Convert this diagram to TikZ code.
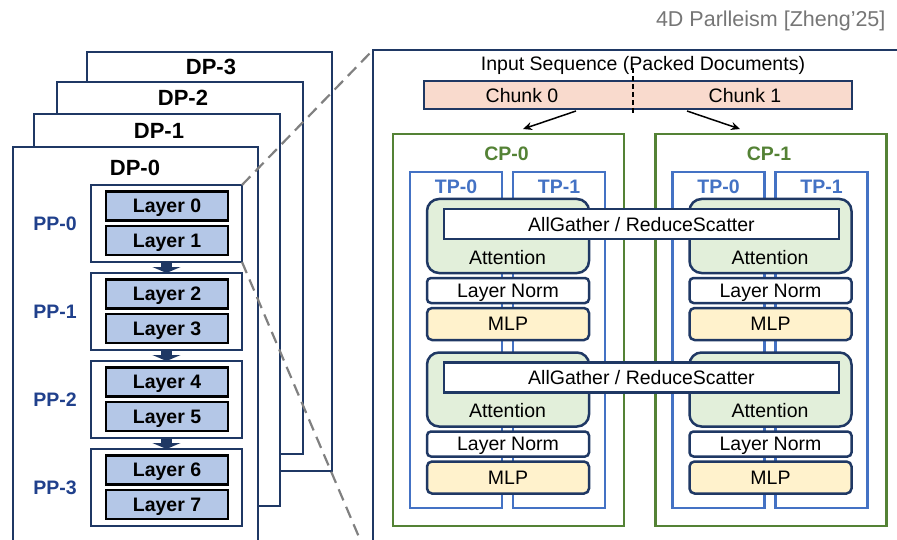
\documentclass[tikz,border=0pt]{standalone}
\usepackage{fontspec}
\setmainfont{Liberation Sans}
\usetikzlibrary{arrows.meta}

\definecolor{navy}{RGB}{31,56,100}
\definecolor{ppblue}{RGB}{32,64,140}
\definecolor{layerfill}{RGB}{180,199,231}
\definecolor{chunkfill}{RGB}{249,218,205}
\definecolor{cpgreen}{RGB}{84,130,53}
\definecolor{attnfill}{RGB}{226,239,218}
\definecolor{tpblue}{RGB}{68,114,196}
\definecolor{mlpfill}{RGB}{255,242,204}
\definecolor{titlegray}{RGB}{118,118,118}

\tikzset{
  txt/.style={font=\fontsize{19.5}{22}\selectfont, text depth=0pt},
  bftxt/.style={font=\fontsize{19.5}{22}\selectfont\bfseries, text depth=0pt},
  sized/.style 2 args={minimum width=#1pt, minimum height=#2pt,
    inner sep=0pt, outer sep=0pt},
  dpbox/.style={draw=navy, line width=2.5pt, fill=white},
  dplabel/.style={font=\fontsize{22}{24}\selectfont\bfseries},
  ppbox/.style={draw=navy, line width=2.5pt, fill=white, sized={151}{77}},
  laybox/.style={bftxt, draw=black, line width=2.8pt, fill=layerfill,
    sized={122}{29}},
  pplabel/.style={bftxt, text=ppblue},
  pparrow/.style={navy, line width=11pt,
    -{Triangle[width=28pt,length=6pt]}},
  cpbox/.style={draw=cpgreen, line width=2.5pt, sized={231}{392}},
  tpbox/.style={draw=tpblue, line width=2.2pt, sized={92}{336}},
  attnbox/.style={draw=navy, line width=2.5pt, fill=attnfill,
    rounded corners=12pt, sized={162}{74}},
  lnbox/.style={txt, draw=navy, line width=2.5pt, fill=white,
    rounded corners=4pt, sized={162}{25}},
  mlpbox/.style={txt, draw=navy, line width=2.5pt, fill=mlpfill,
    rounded corners=5pt, sized={162}{32}},
  agbox/.style={txt, draw=navy, line width=2.5pt, fill=white, sized={395}{30}},
  splitarrow/.style={line width=1.5pt, -{Stealth[length=9pt,width=8pt]}},
  zoomline/.style={draw=gray, line width=2.2pt, dash pattern=on 12pt off 7pt},
  titletxt/.style={font=\fontsize{21.5}{24}\selectfont, text=titlegray},
}

\begin{document}
\begin{tikzpicture}[x=1pt,y=-1pt]
  \clip (0,0) rectangle (897,540);

  \node[titletxt, anchor=east] (title) at (889,21) {4D Parlleism [Zheng’25]};

  % data parallel copies
  \node[dpbox, sized={245}{419}] (dp3) at (209.5,261.5) {};
  \node[dplabel] (dp3lbl) at (211,67) {DP-3};
  \node[dpbox, sized={246}{372}] (dp2) at (180,268) {};
  \node[dplabel] (dp2lbl) at (183,98) {DP-2};
  \node[dpbox, sized={246}{392}] (dp1) at (157,310) {};
  \node[dplabel] (dp1lbl) at (159,131) {DP-1};
  \node[dpbox, sized={245}{420}] (dp0) at (135.5,357) {};
  \node[dplabel] (dp0lbl) at (135,168) {DP-0};

  % pipeline stages
  \foreach \i/\a/\b in {0/0/1,1/2/3,2/4/5,3/6/7}{
    \node[ppbox] (pp\i) at (166.5,223.5+88*\i) {};
    \node[laybox] (layer\a) at (167,206+88*\i) {Layer \a};
    \node[laybox] (layer\b) at (167,240.5+88*\i) {Layer \b};
    \node[pplabel] (pplbl\i) at (55,224+88*\i) {PP-\i};
  }
  \foreach \i [count=\j] in {0,1,2}
    \draw[pparrow] (pp\i.south) -- (pp\j.north);

  % zoomed view of one stage
  \node[draw=navy, line width=2pt, sized={560}{520}, anchor=north west]
    (cpview) at (373,50) {};
  \node[txt] (inseq) at (643,63) {Input Sequence (Packed Documents)};
  \node[draw=navy, line width=2.5pt, fill=chunkfill, sized={428}{28}]
    (chunks) at (638,95) {};
  \node[txt] (chunk0) at (522,95) {Chunk 0};
  \node[txt] (chunk1) at (745,95) {Chunk 1};
  \coordinate (divtop) at (633,68);
  \coordinate (divbot) at (633,115);
  \draw[line width=1.5pt, dash pattern=on 5pt off 3pt] (divtop) -- (divbot);
  \coordinate (src0) at (576,111);
  \coordinate (dst0) at (523,129);
  \coordinate (src1) at (687,111);
  \coordinate (dst1) at (740,129);
  \draw[splitarrow] (src0) -- (dst0);
  \draw[splitarrow] (src1) -- (dst1);

  \foreach \c/\x in {0/508.5,1/771}{
    \node[cpbox] (cp\c) at (\x,330) {};
    \node[bftxt, text=cpgreen] (cplbl\c) at (\x-2,154) {CP-\c};
    \node[tpbox] (cp\c-tp0) at (\x-52.5,340) {};
    \node[tpbox] (cp\c-tp1) at (\x+50.5,340) {};
    \node[bftxt, text=tpblue] (cp\c-tplbl0) at (\x-52.5,187) {TP-0};
    \node[bftxt, text=tpblue] (cp\c-tplbl1) at (\x+50.5,187) {TP-1};
    \foreach \r/\d in {0/0,1/153.5}{
      \node[attnbox] (cp\c-attn\r) at (\x-0.5,236+\d) {};
      \node[txt] (cp\c-attnlbl\r) at (\x-1,257+\d) {Attention};
      \node[lnbox] (cp\c-ln\r) at (\x-0.5,290.5+\d) {Layer Norm};
      \node[mlpbox] (cp\c-mlp\r) at (\x-0.5,324+\d) {MLP};
    }
  }
  \node[agbox] (ag0) at (641.5,224) {AllGather / ReduceScatter};
  \node[agbox] (ag1) at (641.5,377.5) {AllGather / ReduceScatter};

  \draw[zoomline] (pp0.north east) -- (cpview.north west);
  \draw[zoomline] (pp0.south east) -- (cpview.south west);
\end{tikzpicture}
\end{document}
